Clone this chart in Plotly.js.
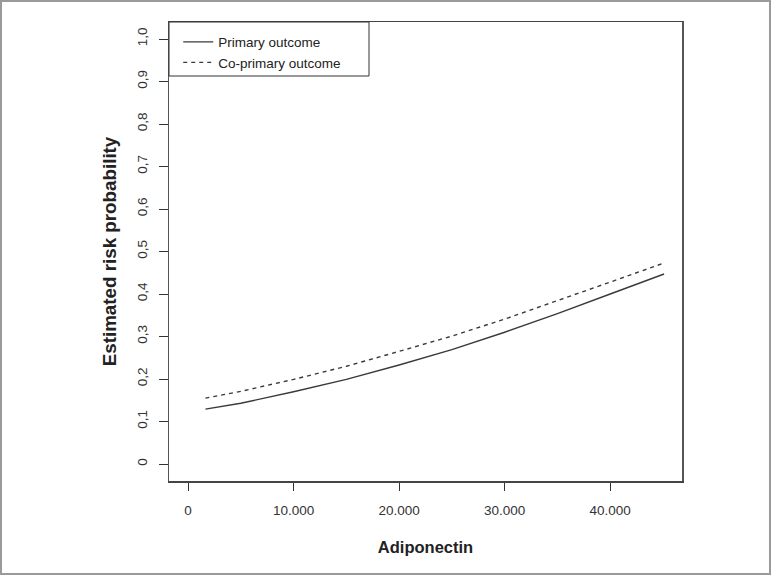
<!DOCTYPE html>
<html>
<head>
<meta charset="utf-8">
<script src="https://cdn.plot.ly/plotly-3.0.1.min.js"></script>
<style>
  body { margin: 0; background: #fff; }
  #chart { width: 771px; height: 575px; }
  #frame { position: absolute; left: 0; top: 0; width: 771px; height: 575px;
           box-sizing: border-box; border: 2px solid #9a9a9a; pointer-events: none; }
</style>
</head>
<body>
<div id="chart"></div>
<div id="frame"></div>
<script>
var adiponectin = [1650, 5000, 10000, 15000, 20000, 25000, 30000, 35000, 40000, 45100];
// estimated risk, primary outcome (solid)
var primary = [0.129, 0.143, 0.170, 0.199, 0.233, 0.269, 0.310, 0.354, 0.400, 0.447];
// estimated risk, co-primary outcome (dashed)
var coPrimary = [0.155, 0.171, 0.199, 0.230, 0.265, 0.301, 0.341, 0.384, 0.428, 0.473];

var xTicks = [0, 10000, 20000, 30000, 40000];
var xTickLabels = ["0", "10.000", "20.000", "30.000", "40.000"];
var yTicks = [0, 0.1, 0.2, 0.3, 0.4, 0.5, 0.6, 0.7, 0.8, 0.9, 1.0];
var yTickLabels = ["0", "0,1", "0,2", "0,3", "0,4", "0,5", "0,6", "0,7", "0,8", "0,9", "1,0"];

var data = [
  {
    x: adiponectin,
    y: primary,
    name: "Primary outcome",
    type: "scatter",
    mode: "lines",
    line: { color: "#3a3a3a", width: 1.4 }
  },
  {
    x: adiponectin,
    y: coPrimary,
    name: "Co-primary outcome",
    type: "scatter",
    mode: "lines",
    line: { color: "#3a3a3a", width: 1.4, dash: "4px,4px" }
  }
];

var axisFont = { family: "Liberation Sans, Arial, sans-serif", size: 13.5, color: "#333" };

var layout = {
  width: 771,
  height: 575,
  margin: { l: 169, r: 89, t: 22, b: 94 },
  paper_bgcolor: "#fff",
  plot_bgcolor: "#fff",
  font: { family: "Liberation Sans, Arial, sans-serif", color: "#222" },
  showlegend: true,
  legend: {
    x: 0.018, y: 0.99,
    xanchor: "left", yanchor: "top",
    bgcolor: "rgba(0,0,0,0)",
    borderwidth: 0,
    font: { family: "Liberation Sans, Arial, sans-serif", size: 13.5, color: "#222" },
    itemwidth: 30
  },
  shapes: [{
    // legend frame
    type: "rect", xref: "paper", yref: "paper",
    x0: 0, x1: 200 / 513, y0: 1 - 54 / 459, y1: 1,
    line: { color: "#333", width: 1 },
    fillcolor: "rgba(0,0,0,0)"
  }],
  xaxis: {
    range: [-1800, 46800],
    tickvals: xTicks,
    ticktext: xTickLabels,
    ticks: "outside",
    ticklen: 8,
    tickcolor: "#333",
    tickfont: axisFont,
    ticklabelstandoff: 8,
    showgrid: false,
    zeroline: false,
    showline: true,
    mirror: true,
    linecolor: "#444",
    linewidth: 1.5,
    title: { text: "Adiponectin", font: { size: 16.5, color: "#222", weight: "bold" }, standoff: 24 }
  },
  yaxis: {
    range: [-0.04, 1.04],
    tickvals: yTicks,
    ticktext: yTickLabels,
    tickangle: -90,
    ticks: "outside",
    ticklen: 9,
    tickcolor: "#333",
    tickfont: axisFont,
    ticklabelstandoff: 6,
    showgrid: false,
    zeroline: false,
    showline: true,
    mirror: true,
    linecolor: "#555",
    linewidth: 1.5,
    title: { text: "Estimated risk probability", font: { size: 18.8, color: "#222", weight: "bold" }, standoff: 13 }
  }
};

Plotly.newPlot("chart", data, layout, { displayModeBar: false, staticPlot: true });
</script>
</body>
</html>
